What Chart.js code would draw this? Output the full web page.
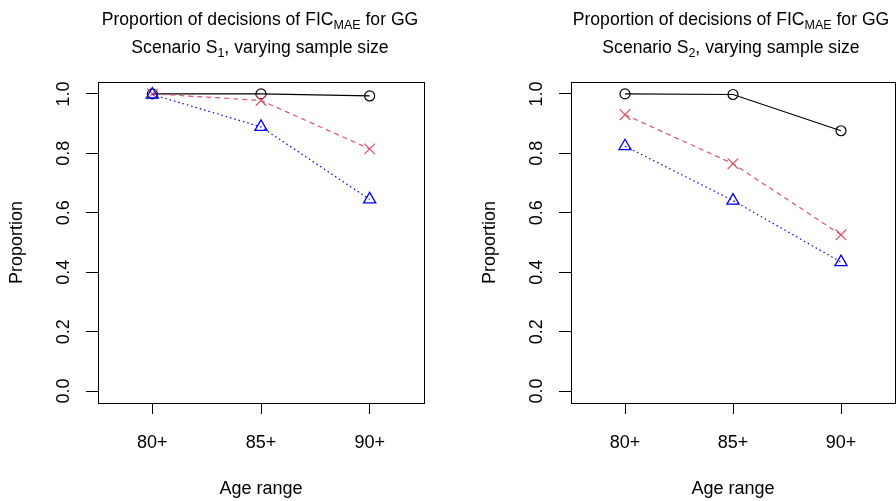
<!DOCTYPE html>
<html>
<head>
<meta charset="utf-8">
<script src="https://cdn.jsdelivr.net/npm/chart.js@4.4.1/dist/chart.umd.min.js"></script>
<style>
  html, body { margin: 0; padding: 0; background: #fff; }
  body { width: 896px; height: 501px; position: relative; overflow: hidden; font-family: "Liberation Sans", Arial, sans-serif; }
  canvas { position: absolute; top: 0; }
  #s1 { left: 0; }
  #s2 { left: 473px; }
  .ttl { position: absolute; width: 400px; font-size: 17.6px; line-height: 20px; color: #000; text-align: center; white-space: nowrap; }
  .ttl sub { font-size: 12.5px; line-height: 0; vertical-align: -4px; }
</style>
</head>
<body>
<canvas id="s1" width="448" height="501"></canvas>
<canvas id="s2" width="423" height="501"></canvas>
<div class="ttl" style="left:60px; top:9px">Proportion of decisions of FIC<sub>MAE</sub> for GG</div>
<div class="ttl" style="left:60px; top:37px">Scenario S<sub>1</sub>, varying sample size</div>
<div class="ttl" style="left:531px; top:9px">Proportion of decisions of FIC<sub>MAE</sub> for GG</div>
<div class="ttl" style="left:531px; top:37px">Scenario S<sub>2</sub>, varying sample size</div>
<script>
let ageLabels = ["80+", "85+", "90+"];
let yTicks = [0, 0.2, 0.4, 0.6, 0.8, 1.0];

// scenario S1
let s1Black = [1.0, 1.0, 0.993];
let s1Red = [1.0, 0.978, 0.815];
let s1Blue = [0.998, 0.889, 0.645];

// scenario S2
let s2Black = [1.0, 0.998, 0.876];
let s2Red = [0.93, 0.765, 0.526];
let s2Blue = [0.824, 0.641, 0.434];

Chart.defaults.font.family = '"Liberation Sans", Arial, sans-serif';
Chart.defaults.color = "#000";

// R style box around the plot region
let boxPlugin = {
  id: "box",
  afterDraw: (chart) => {
    let a = chart.chartArea;
    let c = chart.ctx;
    c.save();
    c.strokeStyle = "#000";
    c.lineWidth = 1;
    c.strokeRect(Math.round(a.left) + 0.5, Math.round(a.top) + 0.5, Math.round(a.right - a.left), Math.round(a.bottom - a.top));
    c.restore();
  },
};

function makeChart(id, black, red, blue, rightPad) {
  let ctx = document.getElementById(id).getContext("2d");
  return new Chart(ctx, {
    type: "line",
    data: {
      labels: ageLabels,
      datasets: [
        {
          data: black,
          borderColor: "#000000",
          borderWidth: 1.2,
          pointStyle: "circle",
          pointRadius: 5,
          pointBorderWidth: 1.2,
          pointBorderColor: "#000000",
          pointBackgroundColor: "transparent",
          order: 3,
        },
        {
          data: red,
          borderColor: "#DF536B",
          borderWidth: 1.2,
          borderDash: [5, 4],
          pointStyle: "crossRot",
          pointRadius: 7.5,
          pointBorderWidth: 1.2,
          pointBorderColor: "#DF536B",
          pointBackgroundColor: "transparent",
          order: 2,
        },
        {
          data: blue,
          borderColor: "#0000FF",
          borderWidth: 1.2,
          borderDash: [1.5, 3],
          pointStyle: "triangle",
          pointRadius: 7,
          pointBorderWidth: 1.3,
          pointBorderColor: "#0000FF",
          pointBackgroundColor: "transparent",
          order: 1,
        },
      ],
    },
    options: {
      responsive: false,
      animation: false,
      devicePixelRatio: 1,
      events: [],
      layout: {
        autoPadding: false,
        padding: { top: 82, right: rightPad, bottom: 0, left: 0 },
      },
      plugins: {
        legend: { display: false },
        tooltip: { enabled: false },
      },
      scales: {
        x: {
          type: "category",
          offset: true,
          grid: {
            drawOnChartArea: false,
            drawTicks: true,
            tickLength: 11,
            color: "#000",
          },
          border: { display: false },
          ticks: {
            color: "#000",
            padding: 18,
            font: { size: 18 },
          },
          title: {
            display: true,
            text: "Age range",
            color: "#000",
            font: { size: 18 },
            padding: { top: 0, bottom: 1 },
          },
          afterFit: (axis) => {
            axis.height = 98;
            axis.paddingLeft = 0;
            axis.paddingRight = 0;
          },
        },
        y: {
          type: "linear",
          min: -0.04,
          max: 1.04,
          afterBuildTicks: (axis) => {
            axis.ticks = yTicks.map((v) => ({ value: v }));
          },
          grid: {
            drawOnChartArea: false,
            drawTicks: true,
            tickLength: 12,
            color: "#000",
          },
          border: { display: false },
          ticks: {
            color: "#000",
            minRotation: 90,
            maxRotation: 90,
            crossAlign: "center",
            padding: 9,
            font: { size: 18 },
            callback: (value) => {
              return Number(value).toFixed(1);
            },
          },
          title: {
            display: true,
            text: "Proportion",
            color: "#000",
            font: { size: 18 },
            padding: { top: 6, bottom: 0 },
          },
          afterFit: (axis) => {
            axis.width = 98;
            axis.paddingTop = 0;
            axis.paddingBottom = 0;
          },
        },
      },
    },
    plugins: [boxPlugin],
  });
}

let chartS1 = makeChart("s1", s1Black, s1Red, s1Blue, 24);
let chartS2 = makeChart("s2", s2Black, s2Red, s2Blue, 1);
</script>
</body>
</html>
